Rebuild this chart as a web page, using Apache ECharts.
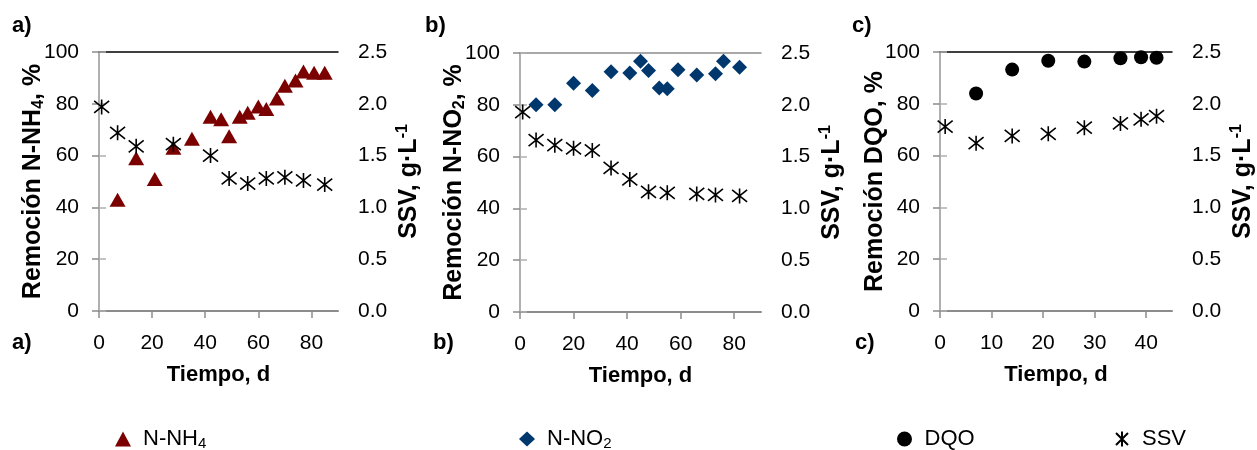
<!DOCTYPE html>
<html>
<head>
<meta charset="utf-8">
<script src="https://cdn.jsdelivr.net/npm/echarts@6/dist/echarts.min.js"></script>
<style>
html,body{margin:0;padding:0;background:#fff;}
#chart{width:1257px;height:450px;}
</style>
</head>
<body>
<div id="chart"></div>
<script>
// Panel a) N-NH4 removal
const dayA = [7, 14, 21, 28, 35, 42, 46, 49, 53, 56, 60, 63, 67, 70, 74, 77, 81, 85];
const nh4 = [43, 59, 51, 63, 66.5, 75, 74, 67.5, 75, 76.5, 79, 78, 82, 87, 89, 92.5, 92, 92];
const daySsvA = [1, 7, 14, 28, 42, 49, 56, 63, 70, 77, 85];
const ssvA = [1.97, 1.72, 1.59, 1.61, 1.50, 1.28, 1.23, 1.28, 1.29, 1.26, 1.22];
// Panel b) N-NO2 removal
const dayB = [6, 13, 20, 27, 34, 41, 45, 48, 52, 55, 59, 66, 73, 76, 82];
const no2 = [80, 80, 88.3, 85.5, 92.8, 92.3, 96.8, 93.2, 86.5, 86.2, 93.5, 91.5, 92, 96.8, 94.5];
const daySsvB = [1, 6, 13, 20, 27, 34, 41, 48, 55, 66, 73, 82];
const ssvB = [1.93, 1.66, 1.61, 1.58, 1.56, 1.39, 1.28, 1.16, 1.15, 1.14, 1.13, 1.12];
// Panel c) DQO removal
const dayC = [7, 14, 21, 28, 35, 39, 42];
const dqo = [84, 93.2, 96.6, 96.3, 97.6, 98, 97.8];
const daySsvC = [1, 7, 14, 21, 28, 35, 39, 42];
const ssvC = [1.78, 1.62, 1.69, 1.71, 1.77, 1.81, 1.85, 1.88];
// Tick labels
const xTicksAB = [0, 20, 40, 60, 80];
const xTicksC = [0, 10, 20, 30, 40];

const FONT = '"Liberation Sans", Arial, sans-serif';
const pair = (xs, ys) => xs.map((x, i) => [x, ys[i]]);
const STAR = 'path://M1,1L9,9M9,1L1,9M5,0L5,10';

const grids = [
  {left: 99, top: 52, width: 239, height: 259},
  {left: 520, top: 53, width: 241, height: 259},
  {left: 940, top: 52, width: 232, height: 259}
];
const leftNames = [
  '{b|Remoción N-NH}{s|4}{b|, %}',
  '{b|Remoción N-NO}{s|2}{b|, %}',
  '{b|Remoción DQO, %}'
];
const nameRich = {
  b: {fontFamily: FONT, fontWeight: 'bold', fontSize: 25, color: '#000'},
  s: {fontFamily: FONT, fontWeight: 'bold', fontSize: 16, color: '#000', padding: [12, 0, 0, 0]},
  p: {fontFamily: FONT, fontWeight: 'bold', fontSize: 16, color: '#000', padding: [0, 0, 12, 0]}
};
const xMax = [90, 90, 45];
const xTicks = [xTicksAB, xTicksAB, xTicksC];
const topColor = ['#000', '#8c8c8c', '#000'];

const xAxis = [], yAxis = [];
grids.forEach((g, i) => {
  xAxis.push({
    type: 'value', gridIndex: i, min: 0, max: xMax[i], position: 'bottom',
    name: 'Tiempo, d', nameLocation: 'middle', nameGap: 53,
    nameTextStyle: {fontFamily: FONT, fontWeight: 'bold', fontSize: 22, color: '#000'},
    axisLine: {show: true, onZero: false, lineStyle: {color: '#8c8c8c', width: 2}},
    axisTick: {show: true, length: 7, customValues: xTicks[i], lineStyle: {color: '#8c8c8c', width: 1.5}},
    axisLabel: {customValues: xTicks[i], margin: 22, fontFamily: FONT, fontSize: 21, color: '#000'},
    splitLine: {show: false}
  });
  xAxis.push({
    type: 'value', gridIndex: i, min: 0, max: xMax[i], position: 'top',
    axisLine: {show: true, onZero: false, lineStyle: {color: topColor[i], width: 1.5}},
    axisTick: {show: false}, axisLabel: {show: false}, splitLine: {show: false}
  });
  yAxis.push({
    type: 'value', gridIndex: i, min: 0, max: 100, interval: 20, position: 'left',
    name: leftNames[i], nameLocation: 'middle', nameRotate: 90, nameGap: 52, nameMoveOverlap: false,
    nameTextStyle: {rich: nameRich},
    axisLine: {show: true, lineStyle: {color: '#8c8c8c', width: 2}},
    axisTick: {show: true, length: 7, lineStyle: {color: '#8c8c8c', width: 1.5}},
    axisLabel: {margin: 20, fontFamily: FONT, fontSize: 21, color: '#000'},
    splitLine: {show: false}
  });
  yAxis.push({
    type: 'value', gridIndex: i, min: 0, max: 2.5, interval: 0.5, position: 'right',
    name: '{b|SSV, g·L}{p|-1}', nameLocation: 'middle', nameRotate: 90, nameGap: 57,
    nameTextStyle: {rich: nameRich},
    axisLine: {show: true, lineStyle: {color: '#b0b0b0', width: 2}},
    axisTick: {show: true, length: 7, lineStyle: {color: '#b0b0b0', width: 1.5}},
    axisLabel: {margin: 20, fontFamily: FONT, fontSize: 21, color: '#000', formatter: v => v.toFixed(1)},
    splitLine: {show: false}
  });
});

const ssvStyle = {color: 'rgba(0,0,0,0)', borderColor: '#000', borderWidth: 1.6, opacity: 1};
const series = [
  {name: 'N-NH4', type: 'scatter', xAxisIndex: 0, yAxisIndex: 0, symbol: 'triangle', symbolSize: [16, 14],
   itemStyle: {color: '#7b0000', opacity: 1}, data: pair(dayA, nh4), z: 3},
  {name: 'SSV', type: 'scatter', xAxisIndex: 0, yAxisIndex: 1, symbol: STAR, symbolSize: 15,
   itemStyle: ssvStyle, data: pair(daySsvA, ssvA), z: 4},
  {name: 'N-NO2', type: 'scatter', xAxisIndex: 2, yAxisIndex: 2, symbol: 'diamond', symbolSize: [15, 15],
   itemStyle: {color: '#00386e', opacity: 1}, data: pair(dayB, no2), z: 3},
  {name: 'SSV', type: 'scatter', xAxisIndex: 2, yAxisIndex: 3, symbol: STAR, symbolSize: 15,
   itemStyle: ssvStyle, data: pair(daySsvB, ssvB), z: 4},
  {name: 'DQO', type: 'scatter', xAxisIndex: 4, yAxisIndex: 4, symbol: 'circle', symbolSize: 14,
   itemStyle: {color: '#000', opacity: 1}, data: pair(dayC, dqo), z: 3},
  {name: 'SSV', type: 'scatter', xAxisIndex: 4, yAxisIndex: 5, symbol: STAR, symbolSize: 15,
   itemStyle: ssvStyle, data: pair(daySsvC, ssvC), z: 4}
];

const legRich = {
  a: {fontFamily: FONT, fontSize: 22, color: '#000'},
  s: {fontFamily: FONT, fontSize: 15, color: '#000', padding: [10, 0, 0, 0]}
};
const mkLegend = (name, left, fmt) => ({
  data: [name], left: left, top: 423, itemWidth: 16, itemHeight: 15, selectedMode: false,
  formatter: fmt, textStyle: {fontFamily: FONT, fontSize: 22, color: '#000', padding: [0, 0, 0, 7], rich: legRich}
});

const labelStyle = {fontFamily: FONT, fontWeight: 'bold', fontSize: 22, fill: '#000'};
const panelLabels = [['a)', 12, 15], ['a)', 12, 332], ['b)', 425, 15], ['b)', 433, 332], ['c)', 852, 15], ['c)', 855, 332]];

const option = {
  backgroundColor: '#fff',
  animation: false,
  grid: grids,
  xAxis: xAxis,
  yAxis: yAxis,
  series: series,
  legend: [
    mkLegend('N-NH4', 110, '{a|N-NH}{s|4}'),
    mkLegend('N-NO2', 514, '{a|N-NO}{s|2}'),
    mkLegend('DQO', 892, '{a|DQO}'),
    mkLegend('SSV', 1110, '{a|SSV}')
  ],
  graphic: panelLabels.map(([t, x, y]) => ({type: 'text', left: x, top: y, style: Object.assign({text: t}, labelStyle)}))
};

const chart = echarts.init(document.getElementById('chart'), null, {renderer: 'canvas'});
chart.setOption(option);
</script>
</body>
</html>
